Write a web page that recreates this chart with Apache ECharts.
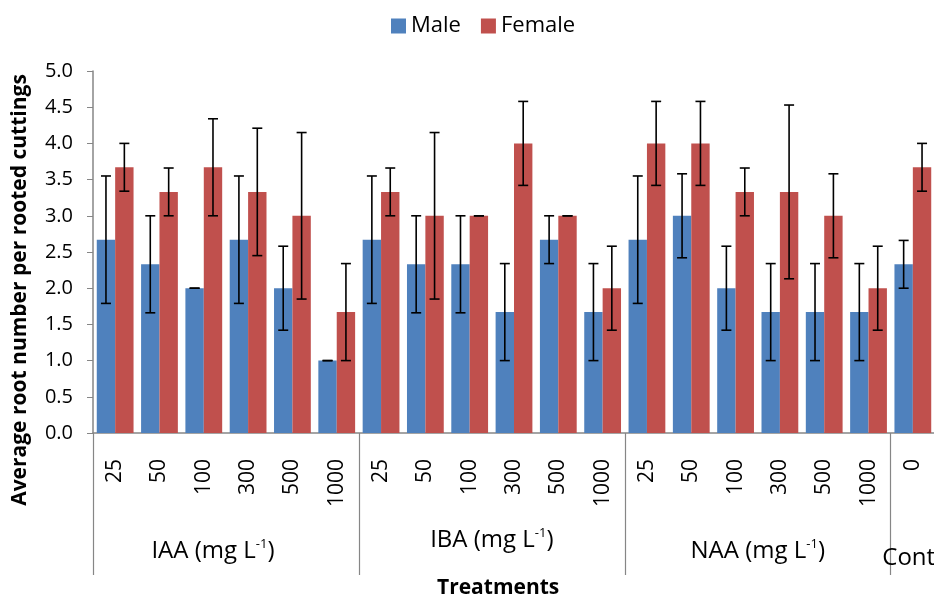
<!DOCTYPE html>
<html>
<head>
<meta charset="utf-8">
<script src="https://cdn.jsdelivr.net/npm/echarts@6/dist/echarts.min.js"></script>
<style>
  html, body { margin: 0; padding: 0; overflow: hidden; background: #fff; }
  #chart { width: 936px; height: 600px; }
</style>
</head>
<body>
<div id="chart"></div>
<script>
// concentrations per treatment (mg L-1)
var categories = ['25', '50', '100', '300', '500', '1000',
                  '25', '50', '100', '300', '500', '1000',
                  '25', '50', '100', '300', '500', '1000',
                  '0'];
var groupNames = ['IAA', 'IBA', 'NAA', 'Control'];
var groupSizes = [6, 6, 6, 1];

var male      = [2.67, 2.33, 2.00, 2.67, 2.00, 1.00,  2.67, 2.33, 2.33, 1.67, 2.67, 1.67,  2.67, 3.00, 2.00, 1.67, 1.67, 1.67,  2.33];
var maleErr   = [0.88, 0.67, 0.00, 0.88, 0.58, 0.00,  0.88, 0.67, 0.67, 0.67, 0.33, 0.67,  0.88, 0.58, 0.58, 0.67, 0.67, 0.67,  0.33];
var female    = [3.67, 3.33, 3.67, 3.33, 3.00, 1.67,  3.33, 3.00, 3.00, 4.00, 3.00, 2.00,  4.00, 4.00, 3.33, 3.33, 3.00, 2.00,  3.67];
var femaleErr = [0.33, 0.33, 0.67, 0.88, 1.15, 0.67,  0.33, 1.15, 0.00, 0.58, 0.00, 0.58,  0.58, 0.58, 0.33, 1.20, 0.58, 0.58,  0.33];

var gapPct = 0.17;
var font = '"Open Sans", "DejaVu Sans", sans-serif';
var narrow = '"Liberation Sans Narrow", "Open Sans", sans-serif';

// group axis: half-category slots, labels in the middle of each group
var slots = [];
var boundaries = [];
var pos = 0;
for (var i = 0; i <= categories.length * 2; i++) slots.push('');
groupSizes.forEach(function (n, g) {
  boundaries.push(pos * 2);
  slots[(pos + n / 2) * 2] = groupNames[g];
  pos += n;
});
boundaries.push(pos * 2);

function errRows(vals, errs, side) {
  return vals.map(function (v, i) { return [i, v, errs[i], side]; });
}

function renderErr(params, api) {
  var idx = api.value(0), v = api.value(1), e = api.value(2), side = api.value(3);
  var band = api.size([1, 0])[0];
  var off = side * band * (1 - gapPct) / 4;
  var top = api.coord([idx, v + e]);
  var bot = api.coord([idx, v - e]);
  var x = top[0] + off;
  var cap = 5;
  var style = { stroke: '#000', lineWidth: 1.6 };
  return {
    type: 'group',
    children: [
      { type: 'line', shape: { x1: x, y1: top[1], x2: x, y2: bot[1] }, style: style },
      { type: 'line', shape: { x1: x - cap, y1: top[1], x2: x + cap, y2: top[1] }, style: style },
      { type: 'line', shape: { x1: x - cap, y1: bot[1], x2: x + cap, y2: bot[1] }, style: style }
    ]
  };
}

var chart = echarts.init(document.getElementById('chart'));

var option = {
  animation: false,
  legend: {
    data: ['Male', 'Female'],
    top: 10,
    left: 386,
    itemWidth: 15,
    itemHeight: 15,
    itemGap: 20,
    icon: 'rect',
    textStyle: { fontFamily: font, fontSize: 22, color: '#000' }
  },
  grid: { left: 93, right: 1, top: 71, bottom: 167, outerBoundsMode: 'none' },
  xAxis: [
    {
      type: 'category',
      data: categories,
      axisLine: { lineStyle: { color: '#868686', width: 1.5 } },
      axisTick: { show: false },
      axisLabel: {
        rotate: 90,
        margin: 26,
        interval: 0,
        fontFamily: font,
        fontSize: 21,
        color: '#000'
      }
    },
    {
      type: 'category',
      position: 'bottom',
      data: slots,
      boundaryGap: false,
      axisLine: { show: false },
      axisTick: {
        show: true,
        length: 142,
        interval: function (index) { return boundaries.indexOf(index) >= 0; },
        lineStyle: { color: '#868686', width: 1.2 }
      },
      axisLabel: {
        margin: 94,
        interval: function (index, value) { return value !== ''; },
        formatter: function (value) {
          if (value === 'Control') return '{sp2| }\n{c|Control}';
          var lead = value === 'IBA' ? '' : '{sp1| }\n';
          var close = value === 'IAA' ? 'gr' : 'g';
          return lead + '{g|' + value + ' (mg L}{s|-1}{' + close + '|)}';
        },
        rich: {
          g: { fontFamily: narrow, fontSize: 24, color: '#000', lineHeight: 26 },
          gr: { fontFamily: narrow, fontSize: 24, color: '#000', lineHeight: 26, padding: [0, 26, 0, 0] },
          c: { fontFamily: narrow, fontSize: 24, color: '#000', lineHeight: 26, padding: [0, 0, 0, 22] },
          s: { fontFamily: narrow, fontSize: 13, color: '#000', verticalAlign: 'top', lineHeight: 26, padding: [0, 0, 12, 0] },
          sp1: { fontSize: 4, lineHeight: 11 },
          sp2: { fontSize: 4, lineHeight: 18 }
        }
      }
    }
  ],
  yAxis: {
    type: 'value',
    min: 0,
    max: 5,
    interval: 0.5,
    axisLine: { show: true, lineStyle: { color: '#868686', width: 1.5 } },
    axisTick: { show: true, length: 6, lineStyle: { color: '#868686' } },
    splitLine: { show: false },
    axisLabel: {
      margin: 20,
      fontFamily: font,
      fontSize: 20,
      color: '#000',
      formatter: function (v) { return v.toFixed(1); }
    }
  },
  graphic: [
    {
      type: 'text',
      rotation: Math.PI / 2,
      x: 20,
      y: 290,
      style: {
        text: 'Average root number per rooted cuttings',
        font: 'bold 21px "Open Sans", sans-serif',
        fill: '#000',
        align: 'center',
        verticalAlign: 'middle'
      },
      silent: true
    },
    {
      type: 'text',
      x: 437,
      y: 578,
      style: {
        text: 'Treatments',
        font: 'bold 21px "Liberation Sans Narrow", "Open Sans", sans-serif',
        fill: '#000'
      }
    }
  ],
  series: [
    {
      name: 'Male',
      type: 'bar',
      data: male,
      barGap: '0%',
      barCategoryGap: (gapPct * 100) + '%',
      itemStyle: { color: '#4F81BD' }
    },
    {
      name: 'Female',
      type: 'bar',
      data: female,
      barGap: '0%',
      barCategoryGap: (gapPct * 100) + '%',
      itemStyle: { color: '#C0504D' }
    },
    {
      type: 'custom',
      renderItem: renderErr,
      data: errRows(male, maleErr, -1),
      z: 10
    },
    {
      type: 'custom',
      renderItem: renderErr,
      data: errRows(female, femaleErr, 1),
      z: 10
    }
  ]
};

chart.setOption(option);
</script>
</body>
</html>
